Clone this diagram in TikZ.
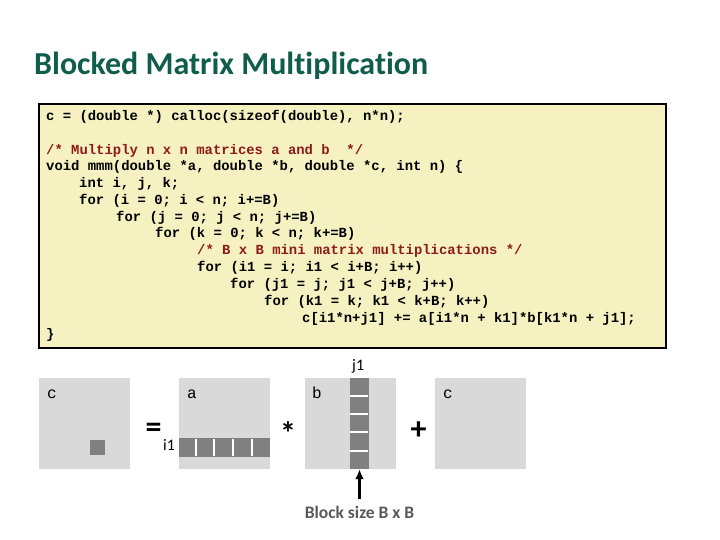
\documentclass[tikz,border=0pt]{standalone}
\usepackage{fontspec}
\setmainfont{Carlito}[Ligatures=CommonOff]
\newfontfamily\codefont{Liberation Mono}
\usetikzlibrary{arrows.meta}

\definecolor{titlegreen}{HTML}{0F5E4B}
\definecolor{codebg}{HTML}{F5F1C1}
\definecolor{cmtred}{HTML}{8E1B1B}
\definecolor{matgray}{HTML}{D9D9D9}
\definecolor{blkgray}{HTML}{808080}
\definecolor{notegray}{HTML}{595959}

\tikzset{
  codeline/.style={anchor=base west,inner sep=0,font=\codefont\bfseries\fontsize{13.9}{16}\selectfont},
  cmtline/.style={codeline,text=cmtred},
  mat/.style={fill=matgray,minimum size=91pt,inner sep=0},
  blk/.style={fill=blkgray,inner sep=0},
  mlab/.style={anchor=base west,inner sep=0,font=\codefont\fontsize{16}{18}\selectfont},
  idx/.style={anchor=base west,inner sep=0,font=\fontsize{16}{18}\selectfont},
  op/.style={anchor=base,inner sep=0,font=\bfseries\fontsize{32}{32}\selectfont},
  sep/.style={white,line width=2pt},
}

\begin{document}
\begin{tikzpicture}[x=1pt,y=-1pt,>={Latex[length=10pt,width=9pt]}]
  \useasboundingbox (0,0) rectangle (720,540);
  \node[anchor=base west,inner sep=0,text=titlegreen,font=\bfseries\fontsize{32}{36}\selectfont]
    (title) at (34,75) {Blocked Matrix Multiplication};

  % code listing
  \draw[line width=2.5pt,fill=codebg] (39,104) rectangle (666,348);
  \node[codeline] (l1)  at (46,120.6) {c = (double *) calloc(sizeof(double), n*n);};
  \node[cmtline]  (l2)  at (46,154.6) {/* Multiply n x n matrices a and b\ \ */};
  \node[codeline] (l3)  at (46,170.6) {void mmm(double *a, double *b, double *c, int n) \{};
  \node[codeline] (l4)  at (79,187.6) {int i, j, k;};
  \node[codeline] (l5)  at (79,204.6) {for (i = 0; i < n; i+=B)};
  \node[codeline] (l6)  at (116,221.6) {for (j = 0; j < n; j+=B)};
  \node[codeline] (l7)  at (155,237.6) {for (k = 0; k < n; k+=B)};
  \node[cmtline]  (l8)  at (197,254.6) {/* B x B mini matrix multiplications */};
  \node[codeline] (l9)  at (197,271.6) {for (i1 = i; i1 < i+B; i++)};
  \node[codeline] (l10) at (230,288.6) {for (j1 = j; j1 < j+B; j++)};
  \node[codeline] (l11) at (264,305.6) {for (k1 = k; k1 < k+B; k++)};
  \node[codeline] (l12) at (302,322.6) {c[i1*n+j1] += a[i1*n + k1]*b[k1*n + j1];};
  \node[codeline] (l13) at (46,338.6) {\}};

  % c = a * b + c
  \node[mat] (cL) at (84.5,423.5) {};
  \node[blk,minimum size=15pt] (cblk) at (97.5,447.5) {};
  \node[mlab] (cLlab) at (47,398) {c};
  \node[op] (eq) at (153.5,437) {=};

  \node[mat] (amat) at (224.5,423.5) {};
  \node[blk,minimum width=91pt,minimum height=19pt] (arow) at (224.5,447.5) {};
  \foreach \x in {196,214,233,252}
    \draw[sep] (\x,439) -- (\x,456);
  \node[mlab] (alab) at (187,398) {a};
  \node[idx] (i1) at (163,450) {i1};
  \node[op] (times) at (288,444) {*};

  \node[mat] (bmat) at (350.5,423.5) {};
  \node[blk,minimum width=19pt,minimum height=91pt] (bcol) at (359.5,423.5) {};
  \foreach \y in {396,414,432,451}
    \draw[sep] (350,\y) -- (368,\y);
  \node[mlab] (blab) at (312,398) {b};
  \node[idx] (j1) at (352,370) {j1};
  \node[op] (plus) at (418.5,439) {+};

  \node[mat] (cR) at (480.5,423.5) {};
  \node[mlab] (cRlab) at (443,398) {c};

  % block size note
  \node[anchor=base,inner sep=0,text=notegray,font=\bfseries\fontsize{17.5}{20}\selectfont]
    (note) at (359.5,518) {Block size B x B};
  \coordinate (tail) at (359.5,499);
  \draw[->,line width=2.5pt] (tail) -- (bcol.south);
\end{tikzpicture}
\end{document}
